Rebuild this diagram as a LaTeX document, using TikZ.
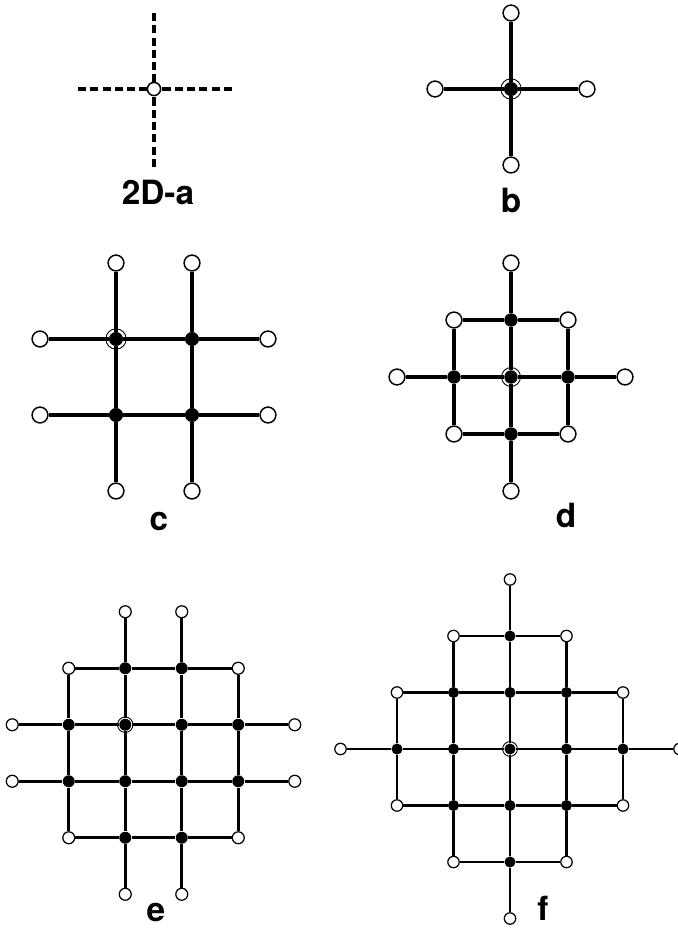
\documentclass[tikz,border=0pt]{standalone}
\usepackage{fontspec}
\setsansfont{TeX Gyre Heros}
\tikzset{
  opennode/.style={circle, draw, fill=white, line width=0.85pt, inner sep=0pt, minimum size=9pt},
  fullnode/.style={circle, fill=black, inner sep=0pt, minimum size=8pt},
  ringline/.style={line width=0.5pt, radius=5.8pt},
  bond/.style={line width=2.8pt},
  dashbond/.style={line width=2.3pt, dash pattern=on 4.6pt off 2.4pt},
  lbl/.style={font=\sffamily\bfseries\fontsize{19}{22}\selectfont, inner sep=0pt},
}
% site type: 1 inner (filled), 2 rim (open), 0 none
\newcommand{\lsite}[2]{(abs(#1-\lmid)+abs(#2-\lmid)<\lhalf-0.01 ? 1 : (abs(#1-\lmid)+abs(#2-\lmid)<\lhalf+0.01 ? 2 : 0))}
% #1 name, #2 sites per row, #3 spacing, #4/#5 ringed site
\newcommand{\lattice}[5]{%
  \pgfmathtruncatemacro{\lmax}{#2-1}
  \pgfmathsetmacro{\lmid}{(#2-1)/2}
  \pgfmathtruncatemacro{\lhalf}{floor(#2/2)}
  \foreach \i in {0,...,\lmax}{
    \foreach \j in {0,...,\lmax}{
      \pgfmathtruncatemacro{\lkind}{\lsite{\i}{\j}}
      \ifnum\lkind=1 \node[fullnode] (#1-\i-\j) at ({(\i-\lmid)*#3},{(\j-\lmid)*#3}) {};\fi
      \ifnum\lkind=2 \node[opennode] (#1-\i-\j) at ({(\i-\lmid)*#3},{(\j-\lmid)*#3}) {};\fi
    }}
  % bonds: no bond between two rim sites
  \foreach \i in {0,...,\lmax}{
    \foreach \j in {0,...,\lmax}{
      \pgfmathtruncatemacro{\lright}{\lsite{\i}{\j}*\lsite{\i+1}{\j}}
      \pgfmathtruncatemacro{\ldown}{\lsite{\i}{\j}*\lsite{\i}{\j+1}}
      \pgfmathtruncatemacro{\inext}{\i+1}
      \pgfmathtruncatemacro{\jnext}{\j+1}
      \ifnum\lright>0 \ifnum\lright<3 \draw[bond] (#1-\i-\j) -- (#1-\inext-\j);\fi\fi
      \ifnum\ldown>0 \ifnum\ldown<3 \draw[bond] (#1-\i-\j) -- (#1-\i-\jnext);\fi\fi
    }}
  \draw[ringline] (#1-#4-#5) circle;
}

\begin{document}
\begin{tikzpicture}[x=0.02cm, y=-0.02cm]
    \useasboundingbox (0,0) rectangle (678,928);
    % 2D-a: single site, dashed bonds
    \node[opennode, minimum size=7.5pt] (a) at (154,89) {};
    \coordinate (a-n) at (154,13);
    \coordinate (a-s) at (154,167);
    \coordinate (a-w) at (78,89);
    \coordinate (a-e) at (232,89);
    \foreach \t in {n,s,w,e}{\draw[dashbond] (a-\t) -- (a);}
    \node[lbl] (lab-a) at (158,192) {2D-a};
    % b
    \begin{scope}[shift={(511,89)}]
      \lattice{b}{3}{76}{1}{1}
    \end{scope}
    \node[lbl] (lab-b) at (511,200) {b};
    % c
    \begin{scope}[shift={(154,377)}]
      \lattice{c}{4}{76}{1}{1}
    \end{scope}
    \node[lbl] (lab-c) at (159,521) {c};
    % d
    \begin{scope}[shift={(511,377)}, bond/.append style={line width=2.2pt},
                  fullnode/.append style={minimum size=7.6pt}, ringline/.append style={radius=5.4pt}]
      \lattice{d}{5}{57}{2}{2}
    \end{scope}
    \node[lbl] (lab-d) at (566,515) {d};
    % e
    \begin{scope}[shift={(153.5,753)}, bond/.append style={line width=1.5pt},
                  opennode/.append style={minimum size=6.8pt, line width=0.7pt},
                  fullnode/.append style={minimum size=6.8pt}, ringline/.append style={radius=4.4pt}]
      \lattice{e}{6}{56.5}{2}{2}
    \end{scope}
    \node[lbl] (lab-e) at (156,912) {e};
    % f
    \begin{scope}[shift={(510,749)}, bond/.append style={line width=1.3pt},
                  opennode/.append style={minimum size=6.5pt, line width=0.7pt},
                  fullnode/.append style={minimum size=6.3pt}, ringline/.append style={radius=4.2pt}]
      \lattice{f}{7}{56.5}{3}{3}
    \end{scope}
    \node[lbl] (lab-f) at (543,908) {f};
  \end{tikzpicture}
\end{document}
